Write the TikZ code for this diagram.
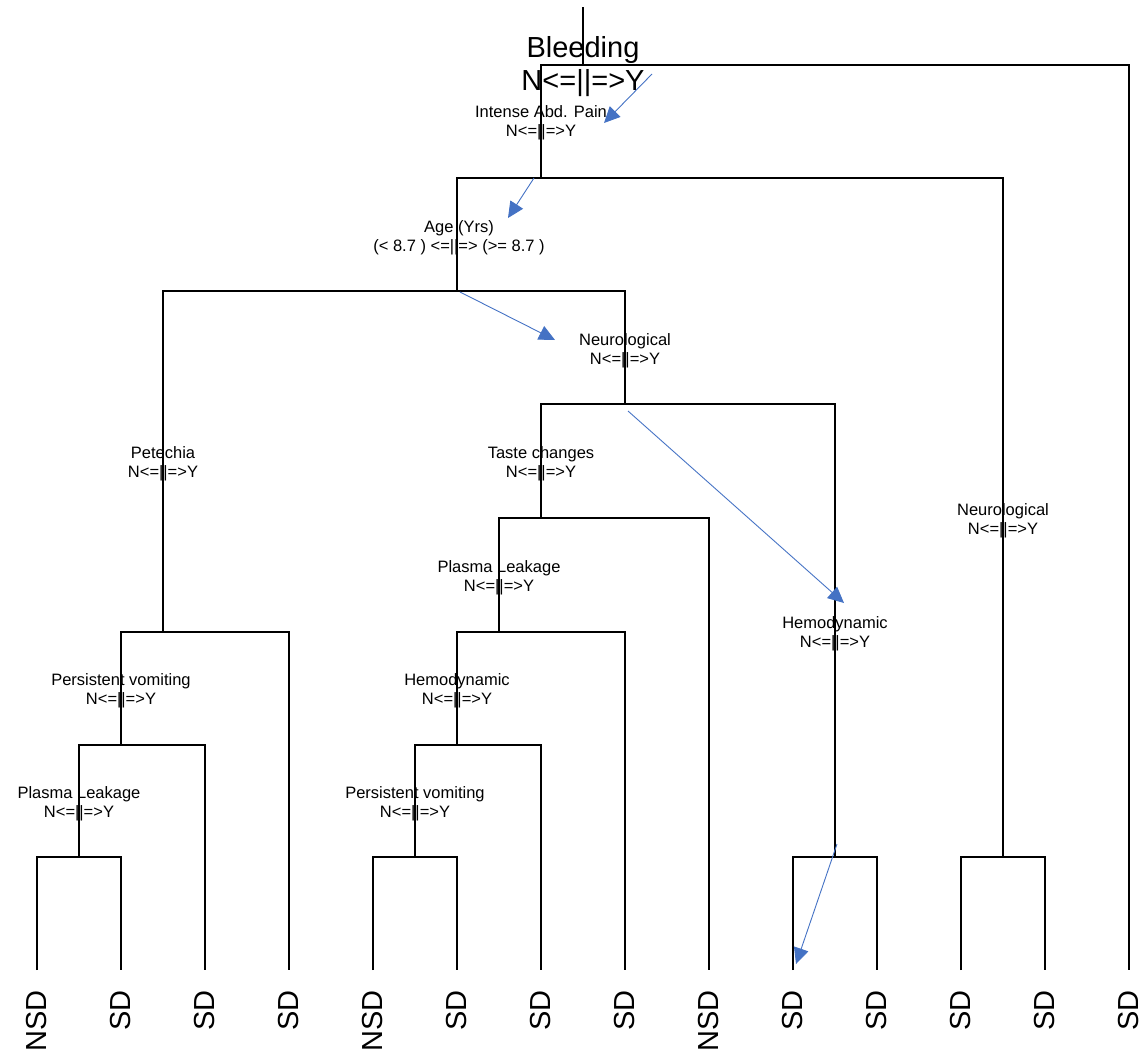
\documentclass[tikz,border=0pt]{standalone}
\usepackage{fontspec}
\setmainfont{Liberation Sans}
\usetikzlibrary{arrows.meta}
\definecolor{arrowblue}{HTML}{4472C4}

\begin{document}
\begin{tikzpicture}[x=1pt,y=-1pt,
	splitlabel/.style={font=\fontsize{16.5}{19.5}\selectfont,align=center,inner sep=0pt},
	leaflabel/.style={font=\fontsize{29}{30}\selectfont,rotate=90,anchor=east,inner sep=0pt},
	pointer/.style={arrowblue,line width=0.9pt,-{Triangle[length=16pt,width=15pt]}}]
	\useasboundingbox (0,0) rectangle (1143,1053);
	% split labels
	\node[splitlabel,font=\fontsize{29}{33}\selectfont] (bleedlab) at (583,67) {Bleeding\\N<=||=>Y};
	\node[splitlabel] (painlab) at (541,123) {Intense Abd. Pain\\N<=||=>Y};
	\node[splitlabel] (agelab) at (459,238) {Age (Yrs)\\(< 8.7 ) <=||=> (>= 8.7 )};
	\node[splitlabel] (neuroLlab) at (625,351) {Neurological\\N<=||=>Y};
	\node[splitlabel] (petelab) at (163,464) {Petechia\\N<=||=>Y};
	\node[splitlabel] (tastelab) at (541,464) {Taste changes\\N<=||=>Y};
	\node[splitlabel] (neuroRlab) at (1003,521) {Neurological\\N<=||=>Y};
	\node[splitlabel] (plasBlab) at (499,578) {Plasma Leakage\\N<=||=>Y};
	\node[splitlabel] (hemoBlab) at (835,634) {Hemodynamic\\N<=||=>Y};
	\node[splitlabel] (pvomAlab) at (121,691) {Persistent vomiting\\N<=||=>Y};
	\node[splitlabel] (hemoAlab) at (457,691) {Hemodynamic\\N<=||=>Y};
	\node[splitlabel] (plasAlab) at (79,804) {Plasma Leakage\\N<=||=>Y};
	\node[splitlabel] (pvomBlab) at (415,804) {Persistent vomiting\\N<=||=>Y};
	% split points
	\coordinate (top) at (583,7);
	\coordinate (bleed) at (583,65);
	\coordinate (pain) at (541,178);
	\coordinate (age) at (457,291);
	\coordinate (neuroL) at (625,404);
	\coordinate (taste) at (541,518);
	\coordinate (pete) at (163,632);
	\coordinate (plasB) at (499,632);
	\coordinate (pvomA) at (121,745);
	\coordinate (hemoA) at (457,745);
	\coordinate (plasA) at (79,857);
	\coordinate (pvomB) at (415,857);
	\coordinate (hemoB) at (835,857);
	\coordinate (neuroR) at (1003,857);
	% leaves
	\foreach \i/\t in {1/NSD,2/SD,3/SD,4/SD,5/NSD,6/SD,7/SD,8/SD,9/NSD,10/SD,11/SD,12/SD,13/SD,14/SD}{
		\coordinate (leaf\i) at ({37+84*(\i-1)},970);
		\node[leaflabel] (leaflab\i) at ({37+84*(\i-1)},990) {\t};
	}
	% tree
	\draw[line width=1.2pt] (top) -- (bleed);
	\foreach \l/\s/\r in {pain/bleed/leaf14, age/pain/neuroR, leaf12/neuroR/leaf13,
		pete/age/neuroL, pvomA/pete/leaf4, plasA/pvomA/leaf3, leaf1/plasA/leaf2,
		taste/neuroL/hemoB, leaf10/hemoB/leaf11, plasB/taste/leaf9,
		hemoA/plasB/leaf8, pvomB/hemoA/leaf7, leaf5/pvomB/leaf6}
		\draw[line width=1.2pt] (\l) |- (\s) -| (\r);
	% blue pointers
	\coordinate (p1a) at (652,74);
	\coordinate (p1b) at (604,123);
	\coordinate (p2a) at (534,178);
	\coordinate (p2b) at (508,218);
	\coordinate (p3a) at (460,292);
	\coordinate (p3b) at (555,340);
	\coordinate (p4a) at (628,411);
	\coordinate (p4b) at (844,603);
	\coordinate (p5a) at (837,844);
	\coordinate (p5b) at (796,964);
	\draw[pointer] (p1a) -- (p1b);
	\draw[pointer] (p2a) -- (p2b);
	\draw[pointer] (p3a) -- (p3b);
	\draw[pointer] (p4a) -- (p4b);
	\draw[pointer] (p5a) -- (p5b);
\end{tikzpicture}
\end{document}
